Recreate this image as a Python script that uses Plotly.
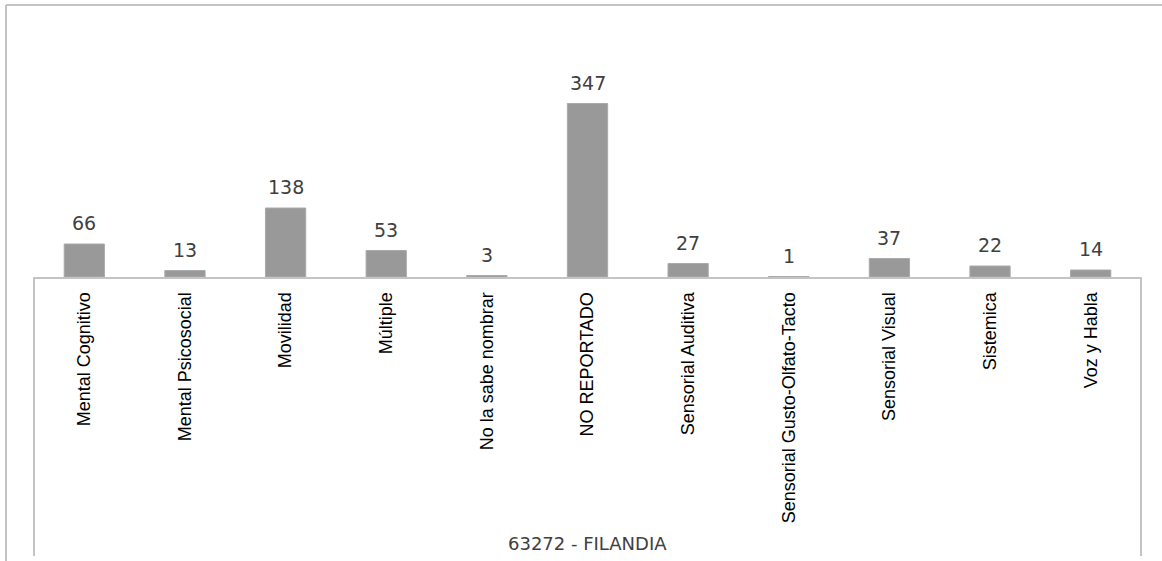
import plotly.graph_objects as go

categories = ["Mental Cognitivo", "Mental Psicosocial", "Movilidad", "Múltiple",
              "No la sabe nombrar", "NO REPORTADO", "Sensorial Auditiva",
              "Sensorial Gusto-Olfato-Tacto", "Sensorial Visual", "Sistemica",
              "Voz y Habla"]
values = [66, 13, 138, 53, 3, 347, 27, 1, 37, 22, 14]
axis_title = "63272 - FILANDIA"

W, H = 1162, 561
L, R = 34, 1141          # plot area pixels (x)
T, B = 77, 277           # plot area pixels (y)
pw, ph = R - L, B - T

def px(x):
    return (x - L) / pw

def py(y):
    return (B - y) / ph

fig = go.Figure()
fig.add_trace(go.Bar(
    x=categories, y=values, width=0.4,
    marker=dict(color="#999999", line=dict(color="#aaaaaa", width=1)),
    hoverinfo="x+y", showlegend=False,
))

for c, v in zip(categories, values):
    fig.add_annotation(x=c, y=v, text=str(v), showarrow=False,
                       yanchor="bottom", yshift=8,
                       font=dict(family="DejaVu Sans", size=19, color="#404040"))

fig.add_annotation(x=0.5, y=py(543), xref="paper", yref="paper", text=axis_title,
                   showarrow=False, xanchor="center", yanchor="middle",
                   font=dict(family="DejaVu Sans", size=18, color="#404040"))

line_style = dict(color="#c4c4c4", width=2)
shapes = [
    dict(type="line", xref="paper", yref="paper", x0=px(6), x1=px(6), y0=py(5), y1=py(561), line=line_style),
    dict(type="line", xref="paper", yref="paper", x0=px(6), x1=px(1162), y0=py(5), y1=py(5), line=line_style),
    dict(type="line", xref="paper", yref="paper", x0=0, x1=0, y0=0, y1=py(556), line=line_style),
    dict(type="line", xref="paper", yref="paper", x0=1, x1=1, y0=0, y1=py(556), line=line_style),
]

fig.update_layout(
    width=W, height=H,
    margin=dict(l=L, r=W - R, t=T, b=H - B),
    paper_bgcolor="white", plot_bgcolor="white",
    shapes=shapes,
    bargap=0.6,
    xaxis=dict(showline=True, linecolor="#c4c4c4", linewidth=2, tickangle=-90,
               ticks="", ticklabelstandoff=6, showgrid=False,
               tickfont=dict(family="Liberation Sans Narrow, Arial Narrow, Liberation Sans", size=18, color="#000000")),
    yaxis=dict(range=[0, 400], visible=False, showgrid=False),
)

fig.write_html("out.html", config={"displayModeBar": False},
               post_script="document.body.style.margin='0';document.body.style.overflow='hidden';")
